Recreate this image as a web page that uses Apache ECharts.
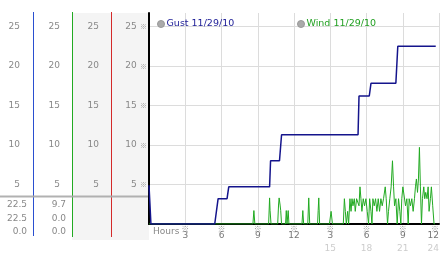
<!DOCTYPE html>
<html>
<head>
<meta charset="utf-8">
<script src="https://cdn.jsdelivr.net/npm/echarts@6/dist/echarts.min.js"></script>
<style>
html,body{margin:0;padding:0;background:#fff;}
#chart{width:442px;height:253px;}
</style>
</head>
<body>
<div id="chart"></div>
<script>
// ---- data ----
const seriesNames = ['Gust 11/29/10', 'Wind 11/29/10'];
const yTickValues = [5, 10, 15, 20, 25];
const xTickHours = [3, 6, 9, 12, 15, 18, 21, 24];
const xTickTop = ['3', '6', '9', '12', '3', '6', '9', '12'];
const xTickBottom = ['', '', '', '', '15', '18', '21', '24'];

const gustHours = [0, 0.16, 5.44, 5.72, 6.46, 6.60, 9.98, 10.06, 10.80, 10.97, 17.30, 17.38, 18.23, 18.37, 20.43, 20.59, 23.73];
const gustValues = [4.9, 0, 0, 3.2, 3.2, 4.7, 4.7, 8.0, 8.0, 11.3, 11.3, 16.2, 16.2, 17.8, 17.8, 22.5, 22.5];

const windHours = [0, 8.60, 8.68, 8.76, 9.90, 9.98, 10.02, 10.10, 10.65, 10.72, 10.77, 10.85, 10.90, 10.97,
  11.30, 11.36, 11.42, 11.46, 11.52, 11.58, 12.66, 12.73, 12.80, 13.14, 13.22, 13.30, 13.95, 14.00, 14.05, 14.12,
  14.93, 15.07, 15.18, 16.08, 16.17, 16.25, 16.33, 16.44, 16.52, 16.63, 16.72, 16.80, 16.88, 16.99, 17.07, 17.18,
  17.29, 17.38, 17.46, 17.54, 17.62, 17.73, 17.84, 17.95, 18.06, 18.17, 18.26, 18.37, 18.45, 18.53, 18.64, 18.75,
  18.86, 18.97, 19.08, 19.19, 19.30, 19.41, 19.55, 19.63, 19.74, 19.82, 19.93, 20.04, 20.15, 20.24, 20.32, 20.43,
  20.54, 20.65, 20.76, 20.84, 20.92, 21.01, 21.14, 21.23, 21.34, 21.45, 21.53, 21.64, 21.75, 21.86, 21.97, 22.05,
  22.13, 22.22, 22.30, 22.38, 22.46, 22.55, 22.63, 22.74, 22.82, 22.90, 23.01, 23.10, 23.18, 23.29, 23.37, 23.48,
  23.59, 23.67];
const windValues = [0, 0, 1.7, 0, 0, 3.3, 1.7, 0, 0, 2.4, 3.3, 2.4, 1.7, 0,
  0, 1.7, 0, 0, 1.7, 0, 0, 1.7, 0, 0, 3.3, 0, 0, 1.7, 3.3, 0,
  0, 1.6, 0, 0, 3.2, 1.6, 0, 1.6, 0, 3.2, 1.6, 3.2, 2.3, 3.2, 1.6, 3.2,
  3.2, 2.3, 4.7, 3.2, 1.6, 3.2, 2.3, 3.2, 1.6, 0, 3.2, 1.6, 0, 3.2, 2.3, 3.2,
  1.6, 3.2, 1.6, 3.2, 2.3, 3.2, 4.7, 3.2, 0, 1.6, 3.2, 4.7, 8.0, 4.7, 2.3, 3.2,
  0, 3.2, 1.6, 0, 3.2, 4.7, 4.7, 2.3, 3.2, 0, 3.2, 2.3, 3.2, 1.6, 3.2, 4.7,
  5.7, 4.0, 5.7, 9.7, 4.7, 0, 3.2, 4.7, 3.2, 4.0, 3.2, 4.7, 1.6, 3.2, 4.7, 2.3,
  0, 0];

// ---- build ----
const FONT = 'DejaVu Sans';
const MARKFONT = 'Noto Sans CJK JP';
const pair = (xs, ys) => xs.map((x, i) => [x, ys[i]]);
const gustData = pair(gustHours, gustValues);
const windData = pair(windHours, windValues);
const stats = v => [Math.max(...v), v[v.length - 1], Math.min(...v)].map(n => n.toFixed(1));
const gustStats = stats(gustValues);
const windStats = stats(windValues);

const YMAX = 26.7;
const yLabel = (withMark) => ({
  formatter: v => {
    if (yTickValues.indexOf(v) < 0) return '';
    return withMark ? '{n|' + v + '} {m|※}' : '{n|' + v + '}';
  },
  rich: {
    n: {fontSize: 9, fontFamily: FONT, color: '#888'},
    m: {fontSize: 7, fontFamily: MARKFONT, color: '#999'}
  }
});
function yAx(offset, margin, main) {
  return {
    type: 'value', min: 0, max: YMAX, interval: 5, position: 'left', offset: offset,
    axisLine: main ? {show: true, lineStyle: {color: '#000', width: 2}} : {show: false},
    axisTick: {show: false},
    splitLine: main ? {show: true, showMaxLine: false, showMinLine: false, lineStyle: {color: '#dcdcdc', width: 1}} : {show: false},
    axisLabel: Object.assign({margin: margin}, yLabel(main))
  };
}

const tableTexts = [];
const rowsY = [205, 218.5, 232];
for (let r = 0; r < 3; r++) {
  tableTexts.push({type: 'text', x: 27, y: rowsY[r], z: 10,
    style: {text: gustStats[r], fill: '#888', font: '9px ' + FONT, textAlign: 'right', textVerticalAlign: 'middle'}});
  tableTexts.push({type: 'text', x: 66, y: rowsY[r], z: 10,
    style: {text: windStats[r], fill: '#888', font: '9px ' + FONT, textAlign: 'right', textVerticalAlign: 'middle'}});
}

const chart = echarts.init(document.getElementById('chart'), null, {renderer: 'canvas'});
chart.setOption({
  animation: false,
  backgroundColor: '#fff',
  grid: {left: 149, right: 2, top: 13, bottom: 27, containLabel: false},
  legend: [
    {data: [{name: seriesNames[0], itemStyle: {color: '#aaa', borderColor: '#999', borderWidth: 1}, textStyle: {color: '#1c1c96'}}],
     left: 152, top: 14, icon: 'circle', itemWidth: 7, itemHeight: 7, selectedMode: false,
     textStyle: {fontSize: 9.5, fontFamily: FONT, padding: [0, 0, 0, -3]}},
    {data: [{name: seriesNames[1], itemStyle: {color: '#aaa', borderColor: '#999', borderWidth: 1}, textStyle: {color: '#22a022'}}],
     left: 292, top: 14, icon: 'circle', itemWidth: 7, itemHeight: 7, selectedMode: false,
     textStyle: {fontSize: 9.5, fontFamily: FONT, padding: [0, 0, 0, -3]}}
  ],
  xAxis: {
    type: 'value', min: 0, max: 24, interval: 3,
    axisLine: {show: true, onZero: false, lineStyle: {color: '#000', width: 2}},
    axisTick: {show: false},
    splitLine: {show: true, showMinLine: false, lineStyle: {color: '#dcdcdc', width: 1}},
    axisLabel: {
      margin: 2, alignMaxLabel: 'right',
      formatter: v => {
        const i = xTickHours.indexOf(v);
        if (i < 0) return '';
        let s = '{m|※}\n{n|' + xTickTop[i] + '}';
        if (xTickBottom[i]) s += '\n{g|' + xTickBottom[i] + '}';
        return s;
      },
      rich: {
        m: {fontSize: 8, fontFamily: MARKFONT, color: '#999', lineHeight: 6},
        n: {fontSize: 9, fontFamily: FONT, color: '#777', lineHeight: 8},
        g: {fontSize: 9, fontFamily: FONT, color: '#ccc', lineHeight: 17}
      }
    }
  },
  yAxis: [yAx(0, 2, true), yAx(38, 12, false), yAx(77, 12, false), yAx(116, 13, false)],
  graphic: [
    {type: 'rect', z: -10, shape: {x: 72, y: 13, width: 77, height: 227}, style: {fill: '#f4f4f4'}},
    {type: 'rect', z: 5, shape: {x: 33, y: 12, width: 1, height: 224}, style: {fill: '#2a4fd0'}},
    {type: 'rect', z: 5, shape: {x: 72, y: 12, width: 1, height: 225}, style: {fill: '#22aa22'}},
    {type: 'rect', z: 5, shape: {x: 111, y: 12, width: 1, height: 225}, style: {fill: '#d42a2a'}},
    {type: 'rect', z: 6, shape: {x: 0, y: 195.5, width: 148, height: 2}, style: {fill: '#a8a8a8', opacity: 0.9}},
    {type: 'text', x: 153, y: 232, z: 10, style: {text: 'Hours', fill: '#888', font: '9px ' + FONT, textVerticalAlign: 'middle'}}
  ].concat(tableTexts),
  series: [
    {name: seriesNames[1], type: 'line', data: windData, showSymbol: false, symbol: 'none',
     lineStyle: {color: '#22aa22', width: 1}, itemStyle: {color: '#22aa22'}, z: 3},
    {name: seriesNames[0], type: 'line', data: gustData, showSymbol: false, symbol: 'none',
     lineStyle: {color: '#14148c', width: 1.5}, itemStyle: {color: '#14148c'}, z: 4}
  ]
});
</script>
</body>
</html>
